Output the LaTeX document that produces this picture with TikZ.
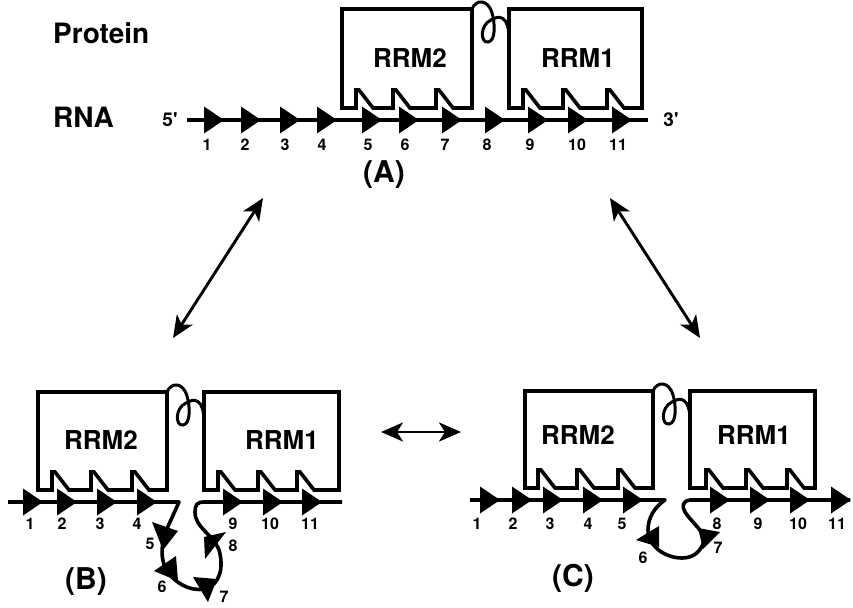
\documentclass[tikz,border=0pt]{standalone}
\usepackage{fontspec}
\setmainfont{TeX Gyre Heros}
\usetikzlibrary{arrows.meta}
\tikzset{
  rna/.style={line width=3.6pt, line join=round},
  boxline/.style={line width=3.6pt, line join=miter},
  dbl/.style={line width=2.9pt, {Stealth[length=22pt,width=19pt,inset=6pt]}-{Stealth[length=22pt,width=19pt,inset=6pt]}},
  linker/.style={line width=3pt},
  num/.style={font=\fontsize{16}{16}\selectfont\bfseries, inner sep=0pt},
  endlbl/.style={font=\fontsize{19}{19}\selectfont\bfseries, inner sep=0pt},
  dom/.style={font=\fontsize{26}{26}\selectfont\bfseries, inner sep=0pt},
  big/.style={font=\fontsize{28}{28}\selectfont\bfseries, inner sep=0pt},
  panel/.style={font=\fontsize{30}{30}\selectfont\bfseries, inner sep=0pt},
}
% filled nucleotide triangle: left x, centre y
\newcommand\ntri[2]{\fill (#1,#2-13.5) -- (#1+20,#2) -- (#1,#2+13.5) -- cycle;}
% RRM box: left, right, top, bottom, bump x list (descending)
\newcommand\rrmbox[5]{\draw[boxline] (#1,#4) -- (#1,#3) -- (#2,#3) -- (#2,#4)
  \foreach \b in {#5}{ -- (\b+17,#4) -- (\b+3,#4-18) -- (\b,#4-18) -- (\b,#4)} -- cycle;}
% linker from corner (x,y) of RRM2 to left edge of RRM1
\newcommand\linkerloop[2]{\draw[linker] (#1,#2) .. controls (#1+4,#2-10) and (#1+16,#2-10) .. (#1+20,#2+4)
  .. controls (#1+23,#2+14) and (#1+24,#2+32) .. (#1+16,#2+33)
  .. controls (#1+8,#2+34) and (#1+8,#2+16) .. (#1+19,#2+11)
  .. controls (#1+27,#2+6) and (#1+37,#2+6) .. (#1+37,#2+30);}
\begin{document}
\begin{tikzpicture}[x=1pt,y=-1pt]
\useasboundingbox (0,0) rectangle (853,607);

% ---------------- Panel A ----------------
\node[big, anchor=west] (protein) at (53,33) {Protein};
\node[big, anchor=west] (rnalbl) at (53,117) {RNA};
\node[endlbl] (a5) at (170,120) {5\textquotesingle};
\node[endlbl] (a3) at (671,120) {3\textquotesingle};

\rrmbox{342}{472}{9}{108}{436,393,356}
\rrmbox{509}{642}{9}{108}{607,563,523}
\linkerloop{472}{9}
\node[dom] (aRRM2) at (410,58) {RRM2};
\node[dom] (aRRM1) at (578,58) {RRM1};

\draw[rna] (187,120) -- (648,120);
\foreach \x in {204,241,280,317,362,399,442,485,528,568,612} {\ntri{\x}{120}}
\foreach \x/\n in {207/1,245/2,285/3,322/4,368/5,405/6,445/7,487/8,530/9,577/10,618/11}
  {\node[num] (na\n) at (\x,145) {\n};}
\node[panel] (plA) at (384,175) {(A)};

% ---------------- arrows ----------------
\coordinate (ab1) at (263,198); \coordinate (ab2) at (173,338);
\coordinate (ac1) at (610,198); \coordinate (ac2) at (700,338);
\coordinate (bc1) at (381,432); \coordinate (bc2) at (461,432);
\draw[dbl] (ab1) -- (ab2);
\draw[dbl] (ac1) -- (ac2);
\draw[dbl] (bc1) -- (bc2);

% ---------------- Panel B ----------------
\rrmbox{38}{167}{392}{490}{132,91,52}
\rrmbox{204}{339}{392}{490}{297,258,218}
\linkerloop{167}{392}
\node[dom] (bRRM2) at (101,440) {RRM2};
\node[dom] (bRRM1) at (282,440) {RRM1};

\draw[rna] (8,502) -- (179,502) -- (170,522)
  .. controls (162,538) and (159,556) .. (166,569)
  .. controls (173,582) and (190,592) .. (205,589)
  .. controls (220,585) and (224,567) .. (219,550)
  .. controls (213,534) and (195,528) .. (195,512)
  .. controls (195,505) and (197,502) .. (204,502) -- (342,502);
\foreach \x in {23,57,97,137,223,263,302} {\ntri{\x}{502}}
\fill (152,522) -- (178,531) -- (163,550) -- cycle;
\fill (154,571) -- (176,556) -- (178,581) -- cycle;
\fill (193,577) -- (217,579) -- (208,602) -- cycle;
\fill (204,537) -- (226,532) -- (205,559) -- cycle;
\foreach \x/\n in {30/1,62/2,100/3,137/4,233/9,270/10,310/11}
  {\node[num] (nb\n) at (\x,524) {\n};}
\node[num] (nb5) at (150,544) {5};
\node[num] (nb6) at (162,587) {6};
\node[num] (nb7) at (224,597) {7};
\node[num] (nb8) at (233,546) {8};
\node[panel] (plB) at (86,582) {(B)};

% ---------------- Panel C ----------------
\rrmbox{525}{653}{391}{488}{618,577,538}
\rrmbox{690}{815}{391}{488}{787,746,706}
\linkerloop{653}{391}
\node[dom] (cRRM2) at (578,435) {RRM2};
\node[dom] (cRRM1) at (754,435) {RRM1};

\draw[rna] (470,500) -- (665,500)
  .. controls (655,507) and (648,517) .. (648,530)
  .. controls (648,546) and (665,558) .. (682,558)
  .. controls (695,558) and (702,550) .. (705,538)
  .. controls (700,528) and (690,520) .. (685,512)
  .. controls (682,507) and (682,501) .. (690,500) -- (850,500);
\foreach \x in {480,512,543,583,623,710,750,790,831} {\ntri{\x}{500}}
\fill (636,540) -- (659,526) -- (659,547) -- cycle;
\fill (698,528) -- (720,532) -- (703,549) -- cycle;
\foreach \x/\n in {477/1,513/2,550/3,588/4,622/5,717/8,758/9,798/10,837/11}
  {\node[num] (nc\n) at (\x,524) {\n};}
\node[num] (nc6) at (643,558) {6};
\node[num] (nc7) at (718,548) {7};
\node[panel] (plC) at (573,578) {(C)};
\end{tikzpicture}
\end{document}
